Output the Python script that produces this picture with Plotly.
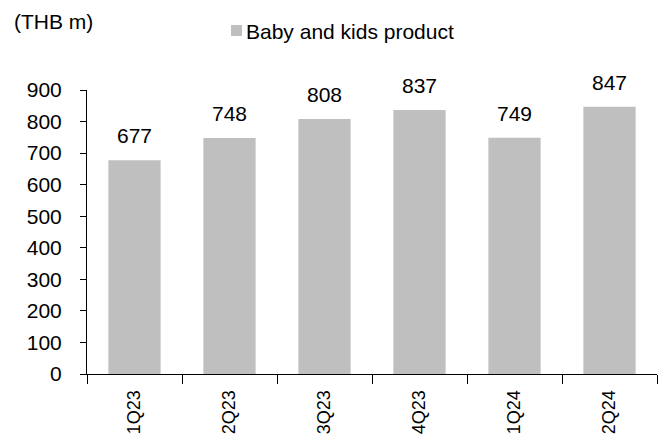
import plotly.graph_objects as go

quarters = ["1Q23", "2Q23", "3Q23", "4Q23", "1Q24", "2Q24"]
revenue = [677, 748, 808, 837, 749, 847]
series_name = "Baby and kids product"
unit_label = "(THB m)"
y_ticks = [0, 100, 200, 300, 400, 500, 600, 700, 800, 900]

FONT = "Liberation Sans, Arial, sans-serif"
BAR_COLOR = "#BFBFBF"

fig = go.Figure()
fig.add_trace(go.Bar(
    x=quarters,
    y=revenue,
    name=series_name,
    marker=dict(color=BAR_COLOR, line=dict(width=0)),
    showlegend=False,
))

# value labels above each bar
for q, v in zip(quarters, revenue):
    fig.add_annotation(
        x=q, y=v, text=str(v), showarrow=False,
        yanchor="bottom", yshift=11,
        font=dict(family=FONT, size=21, color="black"),
    )

# unit label, top-left
fig.add_annotation(
    xref="paper", yref="paper", x=-0.1316, y=1.289,
    xanchor="left", yanchor="top", text=unit_label, showarrow=False,
    font=dict(family=FONT, size=21, color="black"),
)

# compact legend: swatch + series name
fig.add_shape(
    type="rect", xref="paper", yref="paper",
    x0=0.2526, x1=0.2719, y0=1.1901, y1=1.2289,
    fillcolor=BAR_COLOR, line=dict(width=0),
)
fig.add_annotation(
    xref="paper", yref="paper", x=0.2757, y=1.2077,
    xanchor="left", yanchor="middle", text=series_name, showarrow=False,
    font=dict(family=FONT, size=21, color="black"),
)

fig.update_layout(
    width=664, height=441,
    margin=dict(l=87, r=7, t=90, b=67),
    paper_bgcolor="white", plot_bgcolor="white",
    bargap=0.45,
    font=dict(family=FONT, color="black"),
    showlegend=False,
    xaxis=dict(
        type="category",
        showline=True, linecolor="black", linewidth=1,
        ticks="outside", tickson="boundaries", ticklen=9,
        tickcolor="black", tickwidth=1,
        tickangle=-90, showgrid=False,
        ticklabelstandoff=8,
        tickfont=dict(family=FONT, size=18, color="black"),
    ),
    yaxis=dict(
        range=[0, 900], tickvals=y_ticks,
        showline=True, linecolor="black", linewidth=1,
        ticks="outside", ticklen=6, tickcolor="black", tickwidth=1,
        showgrid=False, zeroline=False,
        ticklabelstandoff=14,
        tickfont=dict(family=FONT, size=21, color="black"),
    ),
)

fig.write_html("out.html")
